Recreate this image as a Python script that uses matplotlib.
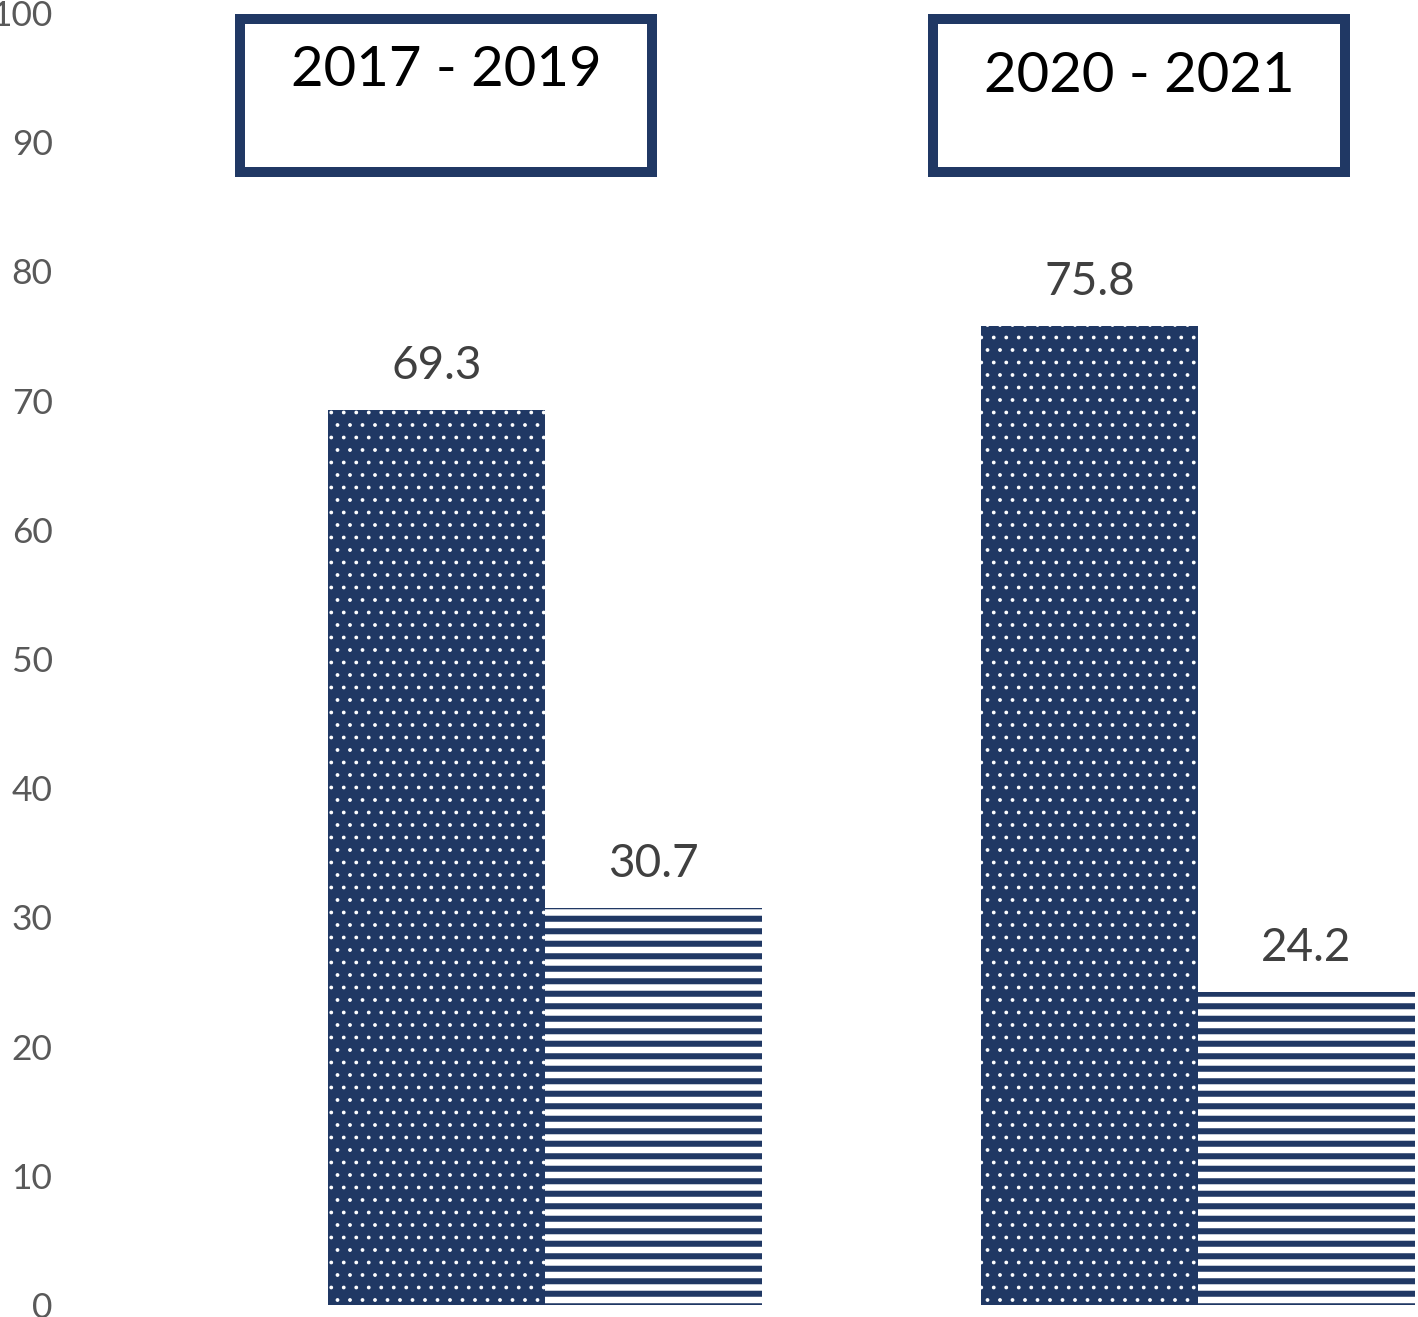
import numpy as np
import matplotlib
matplotlib.use("Agg")
import matplotlib.pyplot as plt
from matplotlib.patches import Rectangle

# Data
periods = ['2017 - 2019', '2020 - 2021']
series_dots = [69.3, 75.8]
series_stripes = [30.7, 24.2]
y_ticks = list(range(0, 101, 10))

navy = '#203864'
plt.rcParams['font.family'] = ['Lato', 'DejaVu Sans']

fig = plt.figure(figsize=(1418 / 150, 1317 / 150), dpi=150)
ax = fig.add_axes([65 / 1418, 12 / 1317, (1418 - 65) / 1418, 1292 / 1317])

x = np.arange(len(periods))
w = 0.332

# dotted bars
with plt.rc_context({'hatch.linewidth': 0.6}):
    b1 = ax.bar(x - w / 2, series_dots, width=w, facecolor=navy,
                edgecolor='white', linewidth=0, hatch='..')
# striped bars
with plt.rc_context({'hatch.linewidth': 2.9}):
    b2 = ax.bar(x + w / 2, series_stripes, width=w, facecolor='white',
                edgecolor=navy, linewidth=0, hatch='--')

ax.bar_label(b1, labels=[f'{v:.1f}' for v in series_dots], padding=11,
             fontsize=22, color='#404040')
ax.bar_label(b2, labels=[f'{v:.1f}' for v in series_stripes], padding=11,
             fontsize=22, color='#404040')

ax.set_ylim(0, 100)
ax.set_xlim(-0.735, 1.337)
ax.set_yticks(y_ticks)
ax.set_yticklabels([str(t) for t in y_ticks], fontsize=17, color='#595959')
ax.tick_params(axis='y', length=0, pad=6)
ax.set_xticks([])
for s in ax.spines.values():
    s.set_visible(False)

# period boxes on top
box_x = [240 / 1418, 933 / 1418]
text_pos = [(446 / 1418, 1 - 70 / 1317), (1139 / 1418, 1 - 77 / 1317)]
for bx, (tx, ty), label in zip(box_x, text_pos, periods):
    fig.add_artist(Rectangle((bx, 1 - 172 / 1317), 412 / 1418, 153 / 1317,
                             transform=fig.transFigure, facecolor='white',
                             edgecolor=navy, linewidth=4.8))
    fig.text(tx, ty, label, ha='center', va='center', fontsize=27,
             color='black')

fig.savefig('out.png', dpi=150)
